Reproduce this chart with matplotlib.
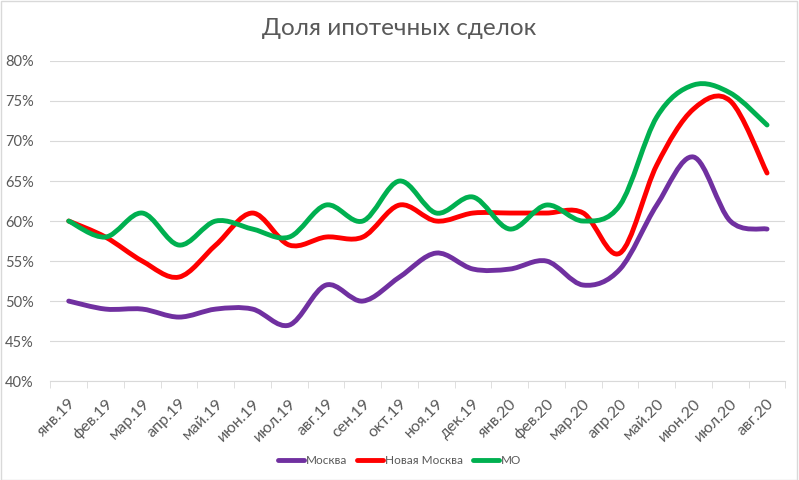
import matplotlib
matplotlib.use('Agg')
import matplotlib.pyplot as plt
from matplotlib.path import Path
from matplotlib.patches import PathPatch, Rectangle
from matplotlib.lines import Line2D
from matplotlib.ticker import FixedLocator, FuncFormatter

plt.rcParams['font.family'] = ['Lato', 'DejaVu Sans']

months = ['янв.19', 'фев.19', 'мар.19', 'апр.19', 'май.19', 'июн.19', 'июл.19',
          'авг.19', 'сен.19', 'окт.19', 'ноя.19', 'дек.19', 'янв.20', 'фев.20',
          'мар.20', 'апр.20', 'май.20', 'июн.20', 'июл.20', 'авг.20']
moskva = [50, 49, 49, 48, 49, 49, 47, 52, 50, 53, 56, 54, 54, 55, 52, 54, 62, 68, 60, 59]
novaya = [60, 58, 55, 53, 57, 61, 57, 58, 58, 62, 60, 61, 61, 61, 61, 56, 67, 74, 75, 66]
mo = [60, 58, 61, 57, 60, 59, 58, 62, 60, 65, 61, 63, 59, 62, 60, 62, 73, 77, 76, 72]

series = [('Москва', moskva, '#7030A0'),
          ('Новая Москва', novaya, '#FF0000'),
          ('МО', mo, '#00B050')]
grey = '#595959'


def smooth_path(ys):
    # excel-like smoothed line: cubic bezier through every point (catmull-rom tangents)
    n = len(ys)
    pts = [(i, y) for i, y in enumerate(ys)]
    verts = [pts[0]]
    codes = [Path.MOVETO]
    for i in range(n - 1):
        p0 = pts[max(i - 1, 0)]
        p1 = pts[i]
        p2 = pts[i + 1]
        p3 = pts[min(i + 2, n - 1)]
        c1 = (p1[0] + (p2[0] - p0[0]) / 6, p1[1] + (p2[1] - p0[1]) / 6)
        c2 = (p2[0] - (p3[0] - p1[0]) / 6, p2[1] - (p3[1] - p1[1]) / 6)
        verts += [c1, c2, p2]
        codes += [Path.CURVE4] * 3
    return Path(verts, codes)


fig = plt.figure(figsize=(7.99, 4.8), dpi=100)
ax = fig.add_axes([0.063, 0.206, 0.920, 0.667])

for name, vals, col in series:
    ax.add_patch(PathPatch(smooth_path(vals), facecolor='none', edgecolor=col,
                           lw=3.5, capstyle='round', joinstyle='round', zorder=3))

ax.set_xlim(-0.5, len(months) - 0.5)
ax.set_ylim(40, 80)
ax.set_yticks(range(40, 81, 5))
ax.yaxis.set_major_formatter(FuncFormatter(lambda v, p: f'{v:.0f}%'))
ax.grid(axis='y', color='#d9d9d9', lw=0.8)
ax.set_axisbelow(True)

ax.set_xticks(range(len(months)))
ax.set_xticklabels(months, rotation=45, ha='right', rotation_mode='anchor')
ax.xaxis.set_minor_locator(FixedLocator([i - 0.5 for i in range(len(months) + 1)]))
ax.tick_params(axis='x', which='major', length=0, pad=11, labelsize=11.5, labelcolor=grey)
ax.tick_params(axis='x', which='minor', length=5, color='#d9d9d9', direction='out')
ax.tick_params(axis='y', length=0, labelsize=10.5, labelcolor=grey, pad=12)

for s in ['top', 'right', 'left']:
    ax.spines[s].set_visible(False)
ax.spines['bottom'].set_color('#d9d9d9')

fig.text(0.5, 0.94, 'Доля ипотечных сделок', ha='center', va='center',
         fontsize=17.5, color=grey)

handles = [Line2D([], [], color=c, lw=3.5, solid_capstyle='round') for _, _, c in series]
fig.legend(handles, [n for n, _, _ in series], loc='center', bbox_to_anchor=(0.5, 0.04),
           ncol=3, frameon=False, fontsize=8.5, handlelength=2.2, handletextpad=0.2,
           columnspacing=0.8, labelcolor=grey)

fig.add_artist(Rectangle((0.001, 0.001), 0.997, 0.997, transform=fig.transFigure,
                         fill=False, edgecolor='#d9d9d9', lw=1))

fig.savefig('out.png', dpi=100)
